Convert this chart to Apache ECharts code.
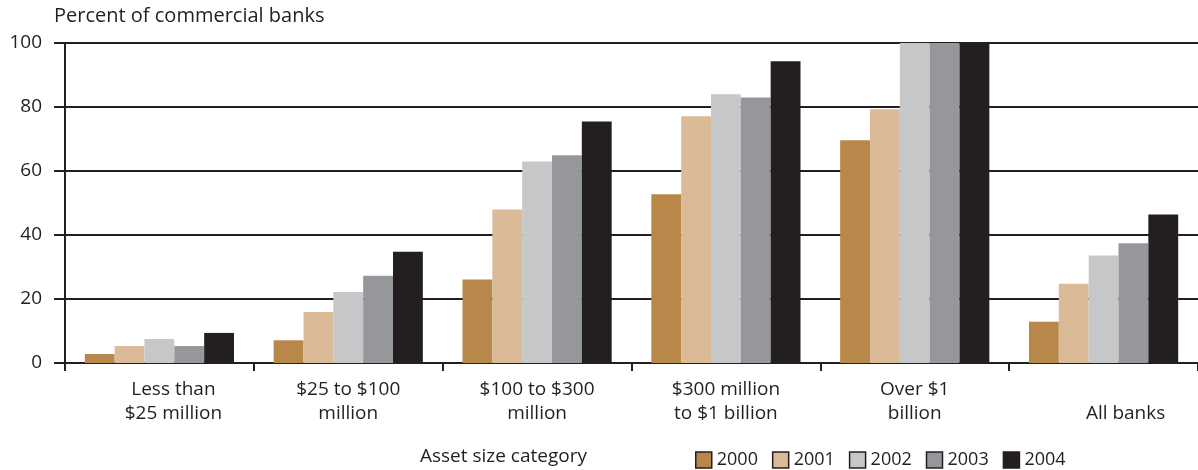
<!DOCTYPE html>
<html><head><meta charset="utf-8">
<script src="https://cdn.jsdelivr.net/npm/echarts@6/dist/echarts.min.js"></script>
<style>html,body{margin:0;padding:0;background:#fff}#c{width:1198px;height:470px}</style>
</head><body><div id="c"></div>
<script>
const categories = ['Less than\n$25 million', '$25 to $100\nmillion', '$100 to $300\nmillion', '$300 million\nto $1 billion', 'Over $1\nbillion', '\nAll banks'];
const years = ['2000', '2001', '2002', '2003', '2004'];
const v2000 = [2.8, 7.1, 26.1, 52.7, 69.6, 12.9];
const v2001 = [5.3, 15.9, 48.0, 77.1, 79.3, 24.8];
const v2002 = [7.5, 22.2, 63.0, 84.0, 100, 33.6];
const v2003 = [5.3, 27.3, 64.9, 83.0, 100, 37.4];
const v2004 = [9.4, 34.8, 75.5, 94.3, 100, 46.4];
const yTicks = [0, 20, 40, 60, 80, 100];
const colors = ['#B8884A', '#DABA97', '#C6C7C9', '#96979B', '#231F20'];
const FONT = 'Open Sans';
const dark = '#231F20';
const seriesData = [v2000, v2001, v2002, v2003, v2004];
const chart = echarts.init(document.getElementById('c'));
const labelShift = [28, 0, 0, 0, 0, 44];
const CFS = 19;
chart.setOption({
  animation: false,
  textStyle: {fontFamily: FONT, color: dark},
  grid: {left: 65, width: 1137, top: 43, height: 320, containLabel: false},
  legend: {
    data: years, left: 690, top: 446, itemWidth: 16, itemHeight: 16, itemGap: 14,
    icon: 'rect',
    textStyle: {fontFamily: FONT, fontSize: 18, color: dark, padding: [0, 0, 0, 0]},
    itemStyle: {borderColor: dark, borderWidth: 1.5}
  },
  graphic: [
    {type: 'text', left: 54, top: 6, style: {text: 'Percent of commercial banks', font: '20px "' + FONT + '"', fill: dark}},
    {type: 'text', left: 420, top: 447, style: {text: 'Asset size category', font: '19px "' + FONT + '"', fill: dark}}
  ],
  xAxis: {
    type: 'category', data: categories,
    axisLine: {show: false},
    axisTick: {show: true, length: 8, lineStyle: {color: dark, width: 2}, alignWithLabel: false},
    axisLabel: {
      margin: 15, lineHeight: 24,
      formatter: function (val, idx) {
        const s = labelShift[idx] || 0;
        return val.split('\n').map(l => '{s' + s + '|' + l + '}').join('\n');
      },
      rich: {
        s0: {fontSize: CFS, fontFamily: FONT, color: dark, lineHeight: 24},
        s28: {fontSize: CFS, fontFamily: FONT, color: dark, lineHeight: 24, padding: [0, 0, 0, 28]},
        s44: {fontSize: CFS, fontFamily: FONT, color: dark, lineHeight: 24, padding: [0, 0, 0, 44]}
      }
    }
  },
  yAxis: {
    type: 'value', min: yTicks[0], max: yTicks[yTicks.length - 1], interval: 20,
    axisLine: {show: true, lineStyle: {color: dark, width: 2}},
    axisTick: {show: true, length: 11, lineStyle: {color: dark, width: 2}},
    axisLabel: {margin: 23, fontSize: 19, fontFamily: FONT, color: dark},
    splitLine: {show: true, lineStyle: {color: dark, width: 2}}
  },
  series: years.map((y, i) => ({
    name: y, type: 'bar', data: seriesData[i],
    barGap: '0%', barCategoryGap: '21%',
    itemStyle: {color: colors[i]},
    z: 1
  }))
});
</script></body></html>
